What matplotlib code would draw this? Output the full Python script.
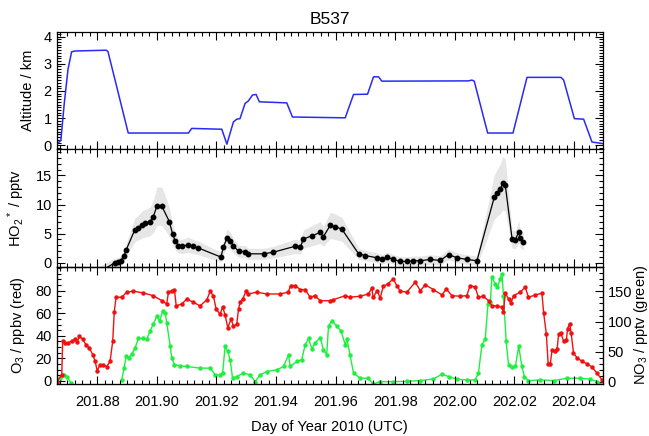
import matplotlib
matplotlib.use('Agg')
import matplotlib.pyplot as plt
import numpy as np
from matplotlib.ticker import MultipleLocator, FormatStrFormatter, FixedLocator

plt.rcParams['font.family'] = ['Liberation Sans', 'DejaVu Sans']
plt.rcParams['mathtext.fontset'] = 'custom'
plt.rcParams['mathtext.rm'] = 'Liberation Sans'
plt.rcParams['mathtext.it'] = 'Liberation Sans:italic'
plt.rcParams['mathtext.bf'] = 'Liberation Sans:bold'

# ---------------- data ----------------
title = "B537"
xlabel = "Day of Year 2010 (UTC)"
alt_label = "Altitude / km"
ho2_label = r"HO$_2$$^*$ / pptv"
o3_label = r"O$_3$ / ppbv (red)"
no3_label = r"NO$_3$ / pptv (green)"
xticks = [201.88, 201.90, 201.92, 201.94, 201.96, 201.98, 202.00, 202.02, 202.04]
o3_ticks = [0, 20, 40, 60, 80]
no3_ticks = [0, 50, 100, 150]

alt_t = [201.8664, 201.8678, 201.8689, 201.8702, 201.8714, 201.8725, 201.8830, 201.8836,
         201.8904, 201.9106, 201.9117, 201.9218, 201.9235, 201.9257, 201.9268, 201.9279,
         201.9296, 201.9307, 201.9321, 201.9333, 201.9344, 201.9436, 201.9455, 201.9632,
         201.9660, 201.9707, 201.9727, 201.9744, 201.9755, 202.0046, 202.0057, 202.0065,
         202.0110, 202.0195, 202.0242, 202.0356, 202.0365, 202.0401, 202.0432, 202.0460,
         202.0497]
alt_km = [0.04, 0.18, 1.5, 2.8, 3.44, 3.47, 3.5, 3.45,
          0.45, 0.45, 0.62, 0.59, 0.04, 0.86, 0.96, 0.98,
          1.54, 1.63, 1.85, 1.87, 1.6, 1.56, 1.04, 1.01,
          1.87, 1.88, 2.52, 2.52, 2.36, 2.37, 2.4, 2.36,
          0.45, 0.45, 2.5, 2.5, 2.4, 0.98, 0.96, 0.12,
          0.06]

ho2_t = [201.8809, 201.8860, 201.8871, 201.8879, 201.8890, 201.8897, 201.8926, 201.8938,
         201.8949, 201.8960, 201.8977, 201.8988, 201.9000, 201.9017, 201.9042, 201.9053,
         201.9061, 201.9072, 201.9084, 201.9106, 201.9121, 201.9139, 201.9215, 201.9223,
         201.9235, 201.9246, 201.9257, 201.9274, 201.9296, 201.9307, 201.9358, 201.9391,
         201.9464, 201.9481, 201.9492, 201.9520, 201.9548, 201.9559, 201.9582, 201.9598,
         201.9621, 201.9677, 201.9699, 201.9738, 201.9755, 201.9772, 201.9794, 201.9817,
         201.9839, 201.9861, 201.9884, 201.9917, 201.9951, 201.9979, 202.0007, 202.0040,
         202.0074, 202.0132, 202.0141, 202.0152, 202.0161, 202.0169, 202.0192, 202.0203,
         202.0214, 202.0219, 202.0230]
ho2_v = [-1.5, 0.0, 0.1, 0.34, 1.24, 2.2, 5.64, 6.05,
         6.5, 6.78, 7.07, 7.9, 9.7, 9.7, 7.07, 4.9,
         3.8, 2.9, 2.8, 3.1, 2.8, 2.54, 0.97, 2.66,
         4.19, 3.8, 2.9, 1.98, 1.92, 1.53, 1.53, 1.81,
         2.83, 2.66, 4.07, 4.63, 5.2, 4.5, 6.44, 6.2,
         5.76, 1.53, 1.24, 0.85, 0.56, 0.97, 0.56, 0.22,
         0.22, 0.34, 0.34, 0.56, 0.39, 1.41, 0.85, 0.56,
         0.34, 11.24, 11.98, 12.66, 13.68, 13.39, 4.07, 3.95,
         5.3, 4.19, 3.6]
ho2_rel_unc = 0.33   # relative uncertainty
ho2_abs_unc = 0.8    # absolute uncertainty floor (pptv)

o3_t = [201.8664, 201.8681, 201.8684, 201.8692, 201.8703, 201.8714, 201.8725, 201.8733,
        201.8740, 201.8751, 201.8762, 201.8773, 201.8785, 201.8793, 201.8800, 201.8809,
        201.8820, 201.8832, 201.8843, 201.8852, 201.8857, 201.8863, 201.8882, 201.8899,
        201.8921, 201.8955, 201.8988, 201.9017, 201.9033, 201.9039, 201.9050, 201.9059,
        201.9065, 201.9084, 201.9100, 201.9123, 201.9145, 201.9168, 201.9179, 201.9190,
        201.9199, 201.9212, 201.9221, 201.9229, 201.9238, 201.9249, 201.9257, 201.9268,
        201.9274, 201.9279, 201.9288, 201.9300, 201.9307, 201.9335, 201.9369, 201.9413,
        201.9441, 201.9449, 201.9464, 201.9481, 201.9498, 201.9514, 201.9531, 201.9548,
        201.9582, 201.9592, 201.9632, 201.9648, 201.9682, 201.9710, 201.9721, 201.9726,
        201.9740, 201.9749, 201.9760, 201.9776, 201.9793, 201.9805, 201.9817, 201.9839,
        201.9867, 201.9884, 201.9901, 201.9928, 201.9957, 201.9971, 201.9990, 202.0018,
        202.0040, 202.0051, 202.0068, 202.0079, 202.0096, 202.0113, 202.0124, 202.0141,
        202.0158, 202.0163, 202.0169, 202.0180, 202.0188, 202.0197, 202.0219, 202.0236,
        202.0247, 202.0270, 202.0292, 202.0298, 202.0307, 202.0313, 202.0320, 202.0326,
        202.0337, 202.0343, 202.0348, 202.0356, 202.0365, 202.0374, 202.0378, 202.0385,
        202.0390, 202.0398, 202.0410, 202.0427, 202.0444, 202.0460, 202.0477, 202.0494]
o3_v = [-0.6, 5.4, 35.2, 33.8, 33.8, 35.2, 36.8, 34.4,
        39.7, 36.8, 32.3, 29.3, 23.3, 17.3, 9.0, 14.3,
        14.3, 12.8, 17.3, 35.2, 60.7, 74.2, 74.2, 78.7,
        79.6, 78.0, 75.6, 71.1, 68.2, 78.7, 80.1, 81.0,
        66.6, 68.2, 72.6, 69.7, 66.6, 72.0, 79.6, 75.1,
        63.7, 59.2, 65.7, 58.3, 47.3, 54.7, 48.7, 50.2,
        63.7, 69.7, 72.6, 80.1, 77.1, 78.7, 77.1, 77.1,
        78.7, 84.6, 84.6, 81.0, 81.0, 74.2, 75.6, 71.1,
        71.1, 72.0, 75.6, 74.2, 75.1, 77.1, 82.2, 74.2,
        80.1, 73.3, 84.0, 86.1, 90.6, 84.6, 79.6, 78.7,
        87.6, 80.1, 85.2, 81.0, 76.2, 81.6, 75.6, 75.1,
        75.6, 84.6, 83.1, 74.2, 75.1, 71.1, 66.6, 66.6,
        65.2, 60.7, 78.0, 72.6, 69.0, 75.6, 78.7, 83.1,
        74.2, 76.2, 77.8, 60.1, 41.3, 15.2, 15.2, 27.2,
        26.3, 28.4, 41.3, 42.2, 35.2, 35.9, 46.4, 50.9,
        42.8, 24.8, 20.4, 17.3, 15.2, 12.3, 6.9, 0.9]

no3_t = [201.8664, 201.8675, 201.8690, 201.8698, 201.8712, np.nan,
         201.8882, 201.8890, 201.8897, 201.8905, 201.8916, 201.8927, 201.8938, 201.8955,
         201.8966, 201.8977, 201.8988, 201.9000, 201.9009, 201.9020, 201.9028, 201.9033,
         201.9045, 201.9050, 201.9059, 201.9078, 201.9100, 201.9145, 201.9179, 201.9196,
         201.9212, 201.9221, 201.9229, 201.9238, 201.9246, 201.9254, 201.9268, 201.9290,
         201.9313, 201.9330, 201.9346, 201.9369, 201.9403, 201.9425, 201.9442, 201.9447,
         201.9470, 201.9486, 201.9498, 201.9509, 201.9520, 201.9531, 201.9548, 201.9559,
         201.9570, 201.9576, 201.9587, 201.9604, 201.9618, 201.9632, 201.9638, 201.9648,
         201.9660, 201.9682, 201.9710, 201.9726, 201.9749, 201.9794, 201.9839, 201.9884,
         201.9928, 201.9957, 201.9979, 202.0007, 202.0040, 202.0068, 202.0079, 202.0091,
         202.0102, 202.0111, 202.0119, 202.0124, 202.0135, 202.0143, 202.0152, 202.0158,
         202.0163, 202.0172, 202.0180, 202.0192, 202.0203, 202.0214, 202.0225, 202.0233,
         202.0247, 202.0286, 202.0331, 202.0376, 202.0420, 202.0454, 202.0477, 202.0497]
no3_v = [-2.2, 6.2, 11.7, 8.9, -2.2, np.nan,
         3.4, 22.9, 42.4, 39.7, 46.4, 56.4, 72.0, 72.0,
         70.4, 84.3, 95.5, 109.4, 101.0, 117.8, 115.0, 98.3,
         59.1, 39.7, 28.5, 26.8, 25.6, 22.9, 22.9, 11.7,
         11.7, 15.6, 59.1, 50.8, 36.9, 6.2, 8.9, 14.6,
         11.7, 0.5, 11.7, 17.3, 20.1, 25.6, 45.2, 25.6,
         34.0, 36.9, 62.0, 72.0, 54.8, 64.8, 73.2, 53.6,
         45.2, 92.6, 101.0, 92.6, 84.3, 62.0, 70.4, 45.2,
         14.6, 6.2, 6.2, -3.4, 0.5, 0.5, 1.0, 2.2,
         5.0, 12.9, 8.9, 4.5, 3.4, 3.4, 14.6, 62.0,
         71.5, 129.0, 131.8, 173.7, 162.5, 157.0, 170.9, 179.2,
         142.9, 67.5, 28.5, 24.6, 25.6, 59.1, 25.6, 8.9,
         2.2, 3.4, 2.2, 6.2, 6.2, 4.5, 0.5, -5.0]

# ---------------- figure ----------------
W_PX, H_PX = 649, 436
fig = plt.figure(figsize=(W_PX / 100, H_PX / 100), dpi=100)

left_px, right_px, top_px, bot_px = 56.7, 603.0, 32.0, 384.0
ph = (bot_px - top_px) / 3.0
L = left_px / W_PX
Wd = (right_px - left_px) / W_PX

def panel(i):
    y0 = 1 - (top_px + (i + 1) * ph) / H_PX
    return fig.add_axes([L, y0, Wd, ph / H_PX])

ax1 = panel(0)
ax2 = panel(1)
ax3 = panel(2)

xlim = (201.8664, 202.0497)
fs = 10.5

for ax in (ax1, ax2, ax3):
    ax.set_xlim(*xlim)
    ax.xaxis.set_major_locator(MultipleLocator(0.02))
    ax.xaxis.set_minor_locator(MultipleLocator(0.0025))
    ax.tick_params(which='both', direction='in', top=True, bottom=True,
                   labelsize=fs, width=0.8)
    ax.tick_params(which='major', length=6)
    ax.tick_params(which='minor', length=3)
    for s in ax.spines.values():
        s.set_linewidth(0.9)

for ax in (ax1, ax2):
    ax.tick_params(which='both', right=True, labelbottom=False)

# Panel 1: altitude
ax1.plot(alt_t, alt_km, color='#2a2af5', lw=1.1)
ax1.set_ylim(-0.15, 4.17)
ax1.yaxis.set_major_locator(MultipleLocator(1))
ax1.yaxis.set_minor_locator(MultipleLocator(0.1))
ax1.set_ylabel(alt_label, fontsize=fs, labelpad=6)
ax1.set_title(title, fontsize=12.5, pad=6)

# Panel 2: HO2*
ho2_arr = np.array(ho2_v)
err = np.sqrt((ho2_rel_unc * ho2_arr) ** 2 + ho2_abs_unc ** 2)
ax2.fill_between(ho2_t, ho2_arr - err, ho2_arr + err, color='#e6e6e6', lw=0)
ax2.plot(ho2_t, ho2_v, color='black', lw=0.9, marker='o', ms=3.2)
ax2.set_ylim(-0.68, 19.5)
ax2.yaxis.set_major_locator(MultipleLocator(5))
ax2.yaxis.set_minor_locator(MultipleLocator(1))
ax2.set_ylabel(ho2_label, fontsize=fs, labelpad=6)

# Panel 3: O3 and NO3
ax3r = ax3.twinx()
ax3r.plot(no3_t, no3_v, color='#1fef3f', lw=1.0, marker='o', ms=2.2)
ax3.plot(o3_t, o3_v, color='#f01010', lw=1.0, marker='o', ms=2.2)
ax3.set_ylim(-2.7, 101.3)
ax3r.set_ylim(-3.4, 191)
ax3.set_zorder(ax3r.get_zorder() + 1)
ax3.patch.set_visible(False)
ax3.yaxis.set_major_locator(FixedLocator(o3_ticks))
ax3.yaxis.set_minor_locator(MultipleLocator(5))
ax3.tick_params(which='both', right=False)
ax3r.yaxis.set_major_locator(FixedLocator(no3_ticks))
ax3r.yaxis.set_minor_locator(MultipleLocator(10))
ax3r.tick_params(which='both', direction='in', labelsize=fs, width=0.8)
ax3r.tick_params(which='major', length=6)
ax3r.tick_params(which='minor', length=3)
ax3.set_ylabel(o3_label, fontsize=fs, labelpad=6)
fig.text(641 / W_PX, 1 - (top_px + 2.5 * ph) / H_PX, no3_label, rotation=90,
         ha='center', va='center', fontsize=fs)
ax3.set_xticks(xticks)
ax3.xaxis.set_major_formatter(FormatStrFormatter('%.2f'))
ax3.xaxis.set_minor_locator(MultipleLocator(0.0025))
ax3.set_xlim(*xlim)
ax3.tick_params(axis='x', pad=8)
ax3.set_xlabel(xlabel, fontsize=fs, labelpad=8)

fig.savefig('out.png', dpi=100)
